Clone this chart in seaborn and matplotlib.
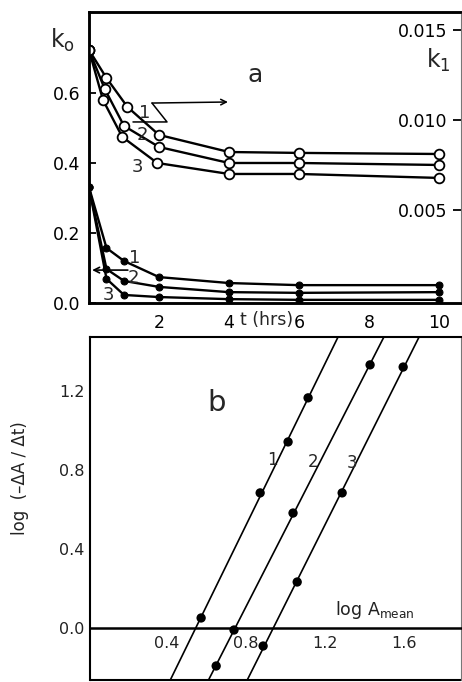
import numpy as np
import pandas as pd
import matplotlib
matplotlib.use("Agg")
import matplotlib.pyplot as plt
import seaborn as sns
from matplotlib.lines import Line2D

sns.set_style("white")
plt.rcParams["font.family"] = ["DejaVu Sans"]

# ---------------- data (panel a) ----------------
k0_t = [0, 0.5, 1, 2, 4, 6, 10]
k0_1 = [0.331, 0.157, 0.120, 0.074, 0.057, 0.051, 0.051]
k0_2 = [0.331, 0.097, 0.063, 0.046, 0.031, 0.029, 0.031]
k0_3 = [0.331, 0.069, 0.023, 0.017, 0.011, 0.009, 0.009]

k1_t1 = [0, 0.5, 1.1, 2.0, 4, 6, 10]
k1_t2 = [0, 0.45, 1.0, 2.0, 4, 6, 10]
k1_t3 = [0, 0.4, 0.95, 1.95, 4, 6, 10]
k1_1 = [0.01389, 0.01233, 0.01072, 0.00917, 0.00822, 0.00817, 0.00811]
k1_2 = [0.01389, 0.01172, 0.00967, 0.00850, 0.00761, 0.00761, 0.00750]
k1_3 = [0.01389, 0.01111, 0.00906, 0.00761, 0.00700, 0.00700, 0.00678]

t_ticks = [2, 4, 6, 8, 10]
k0_ticks = [0.0, 0.2, 0.4, 0.6]
k0_ticklabels = ["0.0", "0.2", "0.4", "0.6"]
k1_ticks = [0.005, 0.010, 0.015]
k1_ticklabels = ["0.005", "0.010", "0.015"]

# ---------------- data (panel b) ----------------
logA_1 = [0.576, 0.874, 1.015, 1.116]
rate_1 = [0.051, 0.684, 0.942, 1.165]
logA_2 = [0.652, 0.742, 1.040, 1.429]
rate_2 = [-0.192, -0.010, 0.582, 1.332]
logA_3 = [0.889, 1.061, 1.288, 1.596]
rate_3 = [-0.091, 0.233, 0.684, 1.321]

b_xticks = [0.4, 0.8, 1.2, 1.6]
b_xticklabels = ["0.4", "0.8", "1.2", "1.6"]
b_yticks = [0.0, 0.4, 0.8, 1.2]
b_yticklabels = ["0.0", "0.4", "0.8", "1.2"]

# ---------------- figure ----------------
W, H = 462, 682
fig = plt.figure(figsize=(W / 100, H / 100), dpi=100)


def fx(x):
    return x / W


def fy(y):
    return 1 - y / H


axA = fig.add_axes([fx(89), fy(303), (461 - 89) / W, (303 - 12) / H])
axB = fig.add_axes([fx(90), fy(680), (461 - 90) / W, (680 - 337) / H])

# ---- panel a: k0 (filled, left axis) ----
df_k0 = pd.DataFrame({
    "t": k0_t * 3,
    "k": k0_1 + k0_2 + k0_3,
    "curve": ["1"] * len(k0_t) + ["2"] * len(k0_t) + ["3"] * len(k0_t),
})
sns.lineplot(data=df_k0, x="t", y="k", units="curve", estimator=None,
             color="black", lw=1.7, marker="o", markersize=5,
             markeredgecolor="black", markerfacecolor="black",
             legend=False, ax=axA)
axA.set_xlim(0, 10.63)
axA.set_ylim(0, 0.831)
axA.set_xticks(t_ticks)
axA.set_xticklabels([str(v) for v in t_ticks])
axA.set_yticks(k0_ticks)
axA.set_yticklabels(k0_ticklabels)
axA.set_xlabel("")
axA.set_ylabel("")
axA.tick_params(axis="x", direction="out", length=5, width=1.3, pad=3,
                labelsize=12.5, colors="black")
axA.tick_params(axis="y", direction="in", length=5, width=1.3, pad=6,
                labelsize=12.5, colors="black")

# ---- panel a: k1 (open, right axis) ----
ax2 = axA.twinx()
df_k1 = pd.DataFrame({
    "t": k1_t1 + k1_t2 + k1_t3,
    "k": k1_1 + k1_2 + k1_3,
    "curve": ["1"] * 7 + ["2"] * 7 + ["3"] * 7,
})
sns.lineplot(data=df_k1, x="t", y="k", units="curve", estimator=None,
             color="black", lw=1.7, marker="o", markersize=7,
             markeredgecolor="black", markerfacecolor="white",
             markeredgewidth=1.3, legend=False, ax=ax2)
ax2.set_xlim(0, 10.63)
ax2.set_ylim(-0.00017, 0.016)
ax2.set_yticks(k1_ticks)
ax2.set_yticklabels(k1_ticklabels)
ax2.set_ylabel("")
ax2.tick_params(axis="y", direction="in", length=6, width=1.3, pad=-10,
                labelsize=12.5, colors="black")
for lab in ax2.get_yticklabels():
    lab.set_horizontalalignment("right")

for ax in (axA, ax2):
    for s in ax.spines.values():
        s.set_color("black")
        s.set_linewidth(1.8)
ax2.spines["right"].set_linewidth(0.8)
ax2.spines["right"].set_color("#777777")
axA.spines["right"].set_visible(False)

# arrows panel a
axA.annotate("", xy=(0.09, 0.094), xytext=(1.11, 0.094),
             arrowprops=dict(arrowstyle="->", color="black", lw=1.2,
                             shrinkA=0, shrinkB=0))
axA.plot([1.257, 2.229, 1.80], [0.517, 0.517, 0.571], color="black", lw=1.1)
axA.annotate("", xy=(3.97, 0.574), xytext=(1.80, 0.571),
             arrowprops=dict(arrowstyle="->", color="black", lw=1.1,
                             shrinkA=0, shrinkB=0))

# text panel a
fig.text(fx(50), fy(40), r"$\mathrm{k_o}$", fontsize=17, ha="left", va="center")
fig.text(fx(426), fy(60), r"$\mathrm{k_1}$", fontsize=17, ha="left", va="center")
fig.text(fx(255), fy(75), "a", fontsize=18, ha="center", va="center")
fig.text(fx(267), fy(320), "t (hrs)", fontsize=12.5, ha="center", va="center")
for lbl, (x, y) in zip(["1", "2", "3"], [(145, 113), (142, 135), (137, 167)]):
    fig.text(fx(x), fy(y), lbl, fontsize=13, ha="center", va="center")
for lbl, (x, y) in zip(["1", "2", "3"], [(135, 258), (133, 278), (108, 295)]):
    fig.text(fx(x), fy(y), lbl, fontsize=13, ha="center", va="center")

# ---- panel b ----
axB.set_xlim(0.015, 1.888)
axB.set_ylim(-0.263, 1.473)
for xs, ys in ((logA_1, rate_1), (logA_2, rate_2), (logA_3, rate_3)):
    sns.regplot(x=xs, y=ys, ci=None, truncate=False, color="black",
                scatter_kws=dict(s=45, edgecolor="none", alpha=1),
                line_kws=dict(lw=1.2), ax=axB)
axB.set_xlim(0.015, 1.888)
axB.set_ylim(-0.263, 1.473)
axB.set_xticks(b_xticks)
axB.set_xticklabels(b_xticklabels)
axB.set_yticks(b_yticks)
axB.set_yticklabels(b_yticklabels)
axB.spines["bottom"].set_position(("data", 0))
for s in axB.spines.values():
    s.set_color("black")
    s.set_linewidth(1.5)
axB.spines["right"].set_linewidth(0.8)
axB.spines["right"].set_color("#777777")
axB.spines["bottom"].set_linewidth(1.8)
axB.add_line(Line2D([0, 1], [0, 0], transform=axB.transAxes, color="black",
                    lw=1.5, clip_on=False))
axB.tick_params(axis="x", direction="in", length=5, width=1.0, pad=6,
                labelsize=11.5, colors="#222222")
axB.tick_params(axis="y", direction="in", length=5, width=1.0, pad=4,
                labelsize=11.5, colors="#222222")
axB.set_xlabel("")
axB.set_ylabel("")

fig.text(fx(20), fy(478), "log  (–ΔA / Δt)", rotation=90, fontsize=12,
         ha="center", va="center", color="#222222")
fig.text(fx(335), fy(615), r"log A$_{\mathrm{mean}}$", fontsize=12.5,
         ha="left", va="baseline", color="#222222")
fig.text(fx(217), fy(403), "b", fontsize=21, ha="center", va="center")
for lbl, (x, y) in zip(["1", "2", "3"], [(272, 460), (313, 462), (352, 463)]):
    fig.text(fx(x), fy(y), lbl, fontsize=12, ha="center", va="center")

fig.savefig("out.png", dpi=100, facecolor="white")
